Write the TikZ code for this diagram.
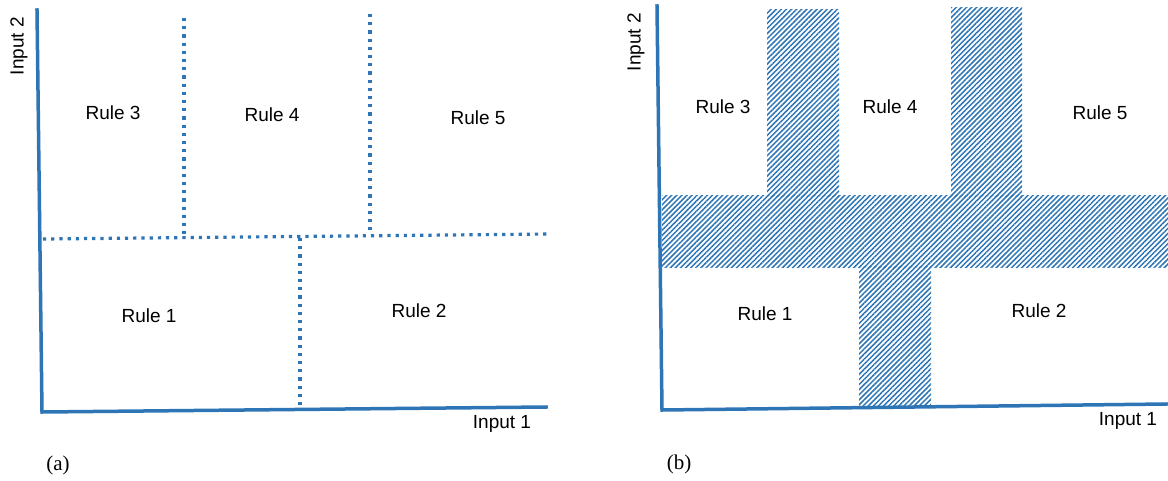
\documentclass[tikz,border=0pt]{standalone}
\usepackage{fontspec}
\setmainfont{Liberation Serif}
\newfontfamily\arialfont{Liberation Sans}
\usetikzlibrary{patterns.meta}
\definecolor{axblue}{RGB}{46,117,182}
\tikzset{
  axis/.style={draw=axblue, line width=3.5pt, line cap=rect, line join=miter},
  dotline/.style={draw=axblue, line width=3.2pt, dash pattern=on 3.2pt off 5pt},
  hatch/.style={pattern={Lines[angle=45,distance=3.6pt,line width=1.5pt]}, pattern color=axblue},
  rule/.style={font=\arialfont\fontsize{19}{22}\selectfont, inner sep=0pt},
  panel/.style={font=\fontsize{21}{24}\selectfont, inner sep=0pt}
}
\begin{document}
\begin{tikzpicture}[x=1pt,y=-1pt]
\useasboundingbox (0,0) rectangle (1168,480);
% ---------- panel (a) ----------
\coordinate (aTop) at (37,10);
\coordinate (aO) at (42,412);
\coordinate (aEnd) at (546,407);
\draw[axis] (aTop) -- (aO) -- (aEnd);
\coordinate (hL) at (43,239);
\coordinate (hR) at (549,234);
\draw[dotline] (hL) -- (hR);
\coordinate (v1t) at (184,18);  \coordinate (v1b) at (184,237);
\coordinate (v2t) at (370,14);  \coordinate (v2b) at (370,235);
\coordinate (v3t) at (300,238); \coordinate (v3b) at (300,409);
\draw[dotline] (v1t) -- (v1b);
\draw[dotline] (v2t) -- (v2b);
\draw[dotline] (v3t) -- (v3b);
\node[rule] (a3) at (113,113) {Rule 3};
\node[rule] (a4) at (272,115) {Rule 4};
\node[rule] (a5) at (478,118) {Rule 5};
\node[rule] (a1) at (149,316) {Rule 1};
\node[rule] (a2) at (419,311) {Rule 2};
\node[rule] (ain1) at (502,424) {Input 1};
\node[rule, rotate=90] (ain2) at (19,46) {Input 2};
\node[panel] (alab) at (58,465) {(a)};
% ---------- panel (b) ----------
\fill[hatch] (662,195) rectangle (1168,267);
\fill[hatch] (767,9) rectangle (839,196);
\fill[hatch] (951,7) rectangle (1022,196);
\fill[hatch] (859,266) rectangle (931,405);
\coordinate (bTop) at (657,6);
\coordinate (bO) at (662,410);
\coordinate (bEnd) at (1166,404);
\draw[axis] (bTop) -- (bO) -- (bEnd);
\node[rule] (b3) at (723,107) {Rule 3};
\node[rule] (b4) at (890,107) {Rule 4};
\node[rule] (b5) at (1100,113) {Rule 5};
\node[rule] (b1) at (765,314) {Rule 1};
\node[rule] (b2) at (1039,311) {Rule 2};
\node[rule] (bin1) at (1128,421) {Input 1};
\node[rule, rotate=90] (bin2) at (636,42) {Input 2};
\node[panel] (blab) at (679,464) {(b)};
\end{tikzpicture}
\end{document}
